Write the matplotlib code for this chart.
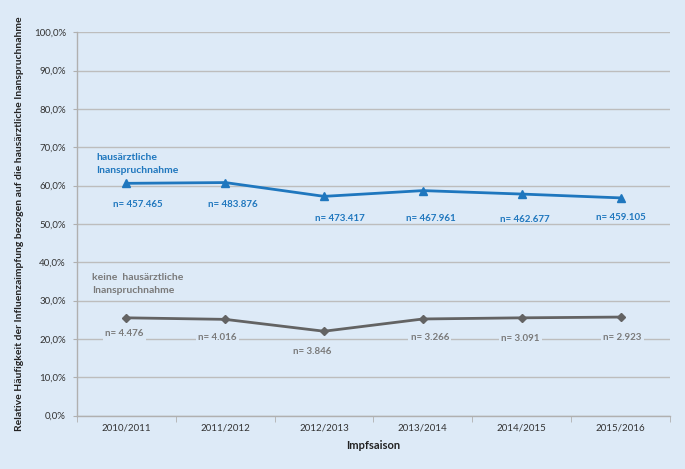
"""
Relative Häufigkeit der Influenzaimpfung nach hausärztlicher Inanspruchnahme
"""

### Import modules
import numpy as np
import matplotlib
matplotlib.use('Agg')
import matplotlib.pyplot as plt

### Data
seasons = ['2010/2011', '2011/2012', '2012/2013', '2013/2014', '2014/2015', '2015/2016']
haus = [60.6, 60.8, 57.2, 58.7, 57.8, 56.8]          # %
keine = [25.5, 25.1, 22.0, 25.2, 25.5, 25.7]         # %
n_haus = ['457.465', '483.876', '473.417', '467.961', '462.677', '459.105']
n_keine = ['4.476', '4.016', '3.846', '3.266', '3.091', '2.923']

### Label offsets (pixels) relative to the points
off_haus = [(11, -21), (8, -22), (16, -22), (8, -28), (3, -25), (0, -20)]
off_keine = [(-2, -16), (-8, -18), (-12, -20), (7, -19), (-1, -21), (2, -20)]

### Styling
bg = '#DDEAF7'
blue = '#1F77BE'
grey_line = '#636363'
grey_txt = '#7A7A7A'
plt.rcParams['font.family'] = ['Lato', 'DejaVu Sans']

fig = plt.figure(figsize=(6.85, 4.69), dpi=100, facecolor=bg)
ax = fig.add_axes([0.1124, 0.114, 0.8656, 0.817])
ax.set_facecolor(bg)

x = np.arange(len(seasons))

### Grid and axes
ax.set_ylim(0, 100)
ax.set_xlim(-0.5, len(seasons) - 0.5)
ax.set_yticks(np.arange(0, 101, 10))
ax.yaxis.set_major_formatter(plt.FuncFormatter(lambda v, p: ('%.1f%%' % v).replace('.', ',')))
ax.grid(axis='y', color='#BDBDBD', linewidth=1.0)
ax.set_axisbelow(True)
for s in ['top', 'right']:
    ax.spines[s].set_visible(False)
for s in ['left', 'bottom']:
    ax.spines[s].set_color('#B0B0B0')
    ax.spines[s].set_linewidth(1.0)

ax.set_xticks(x)
ax.set_xticklabels(seasons)
ax.set_xticks(np.arange(-0.5, len(seasons)), minor=True)
ax.tick_params(axis='x', which='major', length=0, pad=6, labelsize=7, labelcolor='#333333')
ax.tick_params(axis='x', which='minor', length=4, color='#B0B0B0')
ax.tick_params(axis='y', length=3, color='#B0B0B0', pad=5, labelsize=7, labelcolor='#333333')

### Lines
ax.plot(x, haus, color=blue, linewidth=2.0, marker='^', markersize=6, zorder=3)
ax.plot(x, keine, color=grey_line, linewidth=2.0, marker='D', markersize=4.5, zorder=3)

### n labels
for xi, yi, n, o in zip(x, haus, n_haus, off_haus):
    ax.annotate('n= ' + n, (xi, yi), xytext=o, textcoords='offset pixels',
                ha='center', va='center', fontsize=7, fontweight='bold', color=blue)
for xi, yi, n, o in zip(x, keine, n_keine, off_keine):
    ax.annotate('n= ' + n, (xi, yi), xytext=o, textcoords='offset pixels',
                ha='center', va='center', fontsize=7, fontweight='bold', color=grey_txt,
                bbox=dict(boxstyle='square,pad=0.25', fc=bg, ec='none'))

### Series labels
ax.text(0.032, 0.685, 'hausärztliche\nInanspruchnahme', transform=ax.transAxes,
        ha='left', va='top', fontsize=7.5, fontweight='bold', color=blue, linespacing=1.6)
ax.text(0.026, 0.372, 'keine  hausärztliche\nInanspruchnahme', transform=ax.transAxes,
        ha='left', va='top', fontsize=7.5, fontweight='bold', color=grey_txt, linespacing=1.6)

### Axis labels
ax.set_xlabel('Impfsaison', fontsize=8, fontweight='bold', color='#222222', labelpad=5)
ax.set_ylabel('Relative Häufigkeit der Influenzaimpfung bezogen auf die hausärztliche Inanspruchnahme',
              fontsize=7.5, fontweight='bold', color='#222222', labelpad=8)
ax.yaxis.set_label_coords(-0.089, 0.5)

plt.savefig('out.png', dpi=100, facecolor=bg)
